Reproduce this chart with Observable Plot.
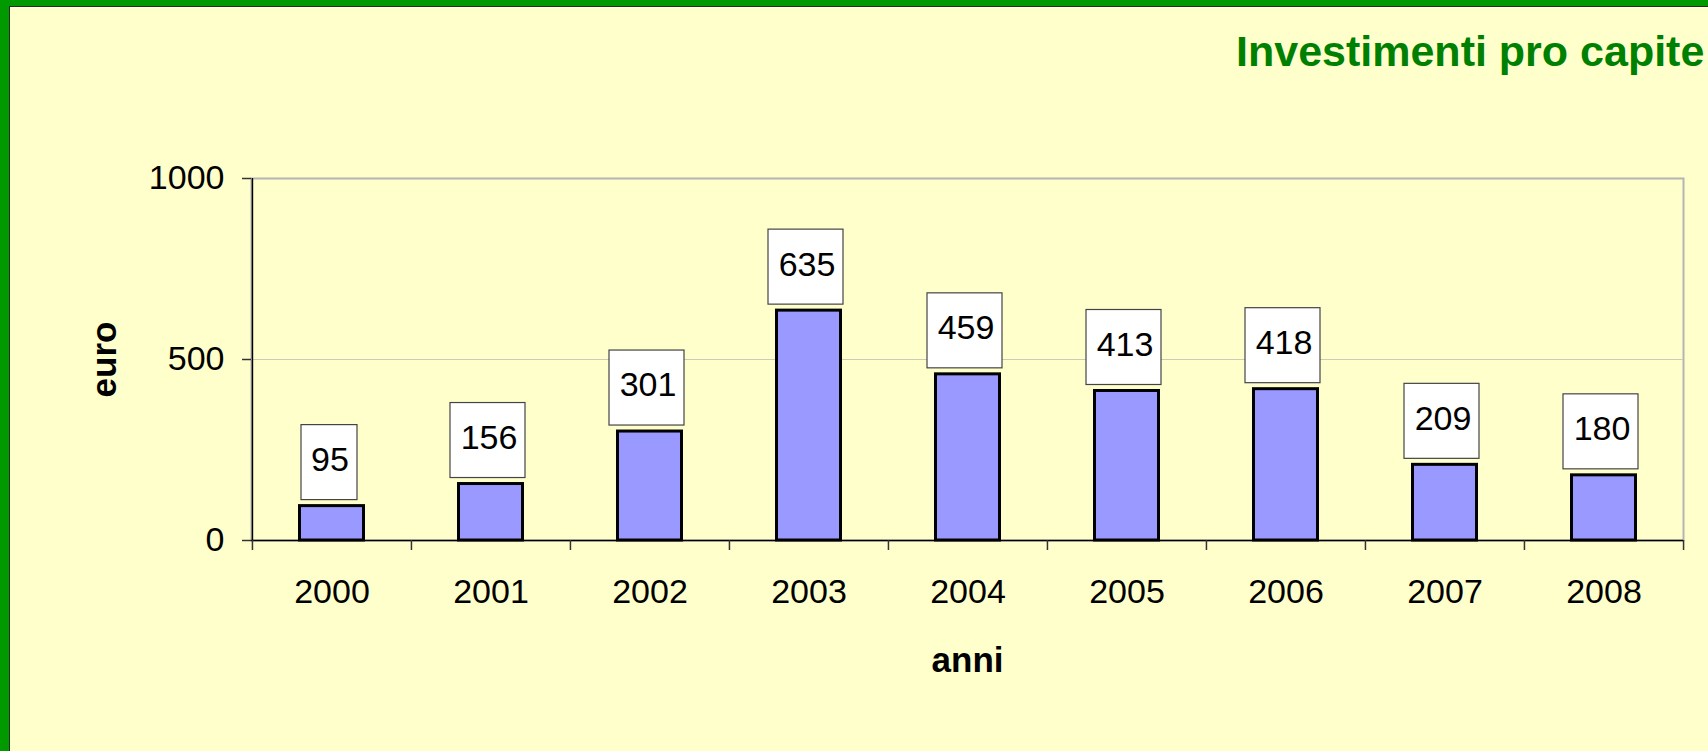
<!DOCTYPE html>
<html><head><meta charset="utf-8">
<script src="https://cdn.jsdelivr.net/npm/d3@7"></script>
<script src="https://cdn.jsdelivr.net/npm/@observablehq/plot@0.6"></script>
<style>
html,body{margin:0;padding:0;}
#page{position:relative;width:1708px;height:751px;overflow:hidden;background:#009900;font-family:"Liberation Sans",Arial,sans-serif;}
#panel{position:absolute;left:9px;top:6px;width:1699px;height:745px;box-sizing:border-box;border-left:1.5px solid #2a2a2a;border-top:1.5px solid #2a2a2a;background:#FFFFCC;}
#title{position:absolute;left:1236px;top:29.6px;font-size:43px;line-height:1;font-weight:bold;color:#008000;white-space:nowrap;}
#chart{position:absolute;left:0;top:100px;}
</style></head><body>
<div id="page"><div id="panel"></div><div id="title">Investimenti pro capite</div><div id="chart"></div></div>
<script>
const years = ["2000","2001","2002","2003","2004","2005","2006","2007","2008"];
const values = [95,156,301,635,459,413,418,209,180];
const yTicks = [0,500,1000];
const xLabel = "anni";
const yLabel = "euro";

const data = years.map((year,i)=>({year, value: values[i]}));
const W=1708, H=651, ML=251, MR=25, MT=78, MB=211;
const bw = (W-ML-MR)/years.length;

const chart = Plot.plot({
  width: W, height: H,
  marginLeft: ML, marginRight: MR, marginTop: MT, marginBottom: MB,
  style: {background: "transparent", color: "#000", fontFamily: "'Liberation Sans', Arial, sans-serif", fontSize: "34px", overflow: "visible"},
  x: {type: "band", domain: years, padding: 0},
  y: {domain: [0, 1000], nice: false},
  marks: [
    Plot.frame({stroke: "#b4b4b4", strokeWidth: 2}),
    Plot.ruleY([500], {stroke: "#cbcbbb", strokeWidth: 1}),
    Plot.barY(data, {x: "year", y: "value", fill: "#9999FF", stroke: "#000", strokeWidth: 3, insetLeft: 47.5, insetRight: 47.5}),
    Plot.ruleY([0], {stroke: "#000", strokeWidth: 1.5}),
    Plot.ruleX([years[0]], {dx: -bw/2, stroke: "#000", strokeWidth: 1.5}),
    Plot.axisX({tickSize: 10, tickFormat: () => "", dx: -bw/2, stroke: "#333", strokeWidth: 1.5, label: null}),
    Plot.axisX({ticks: [years[years.length-1]], tickSize: 10, tickFormat: () => "", dx: bw/2, stroke: "#333", strokeWidth: 1.5, label: null}),
    Plot.axisX({tickSize: 0, tickPadding: 38, fontSize: 34, label: null}),
    Plot.axisY({ticks: yTicks, tickFormat: d => String(d), tickSize: 9, tickPadding: 18, fontSize: 34, stroke: "#333", strokeWidth: 1.5, label: null}),
    Plot.barY(data.filter(d => String(d.value).length < 3), {x: "year", y1: "value", y2: "value", insetTop: -81, insetBottom: 6, insetLeft: 49, insetRight: 54, fill: "#fff", stroke: "#444", strokeWidth: 1.2}),
    Plot.barY(data.filter(d => String(d.value).length >= 3), {x: "year", y1: "value", y2: "value", insetTop: -81, insetBottom: 6, insetLeft: 39, insetRight: 45, fill: "#fff", stroke: "#444", strokeWidth: 1.2}),
    Plot.text(data, {x: "year", y: "value", text: d => String(d.value), dy: -46, dx: -2, fontSize: 34, lineAnchor: "middle", fill: "#000"}),
    Plot.text([xLabel], {text: d => d, frameAnchor: "bottom", dy: 120, fontWeight: "bold", fontSize: 35, textAnchor: "middle", lineAnchor: "middle", fill: "#000"}),
    Plot.text([yLabel], {text: d => d, frameAnchor: "left", rotate: -90, dx: -147, fontWeight: "bold", fontSize: 35, textAnchor: "middle", lineAnchor: "middle", fill: "#000"})
  ]
});
document.getElementById("chart").appendChild(chart);
</script>
</body></html>
